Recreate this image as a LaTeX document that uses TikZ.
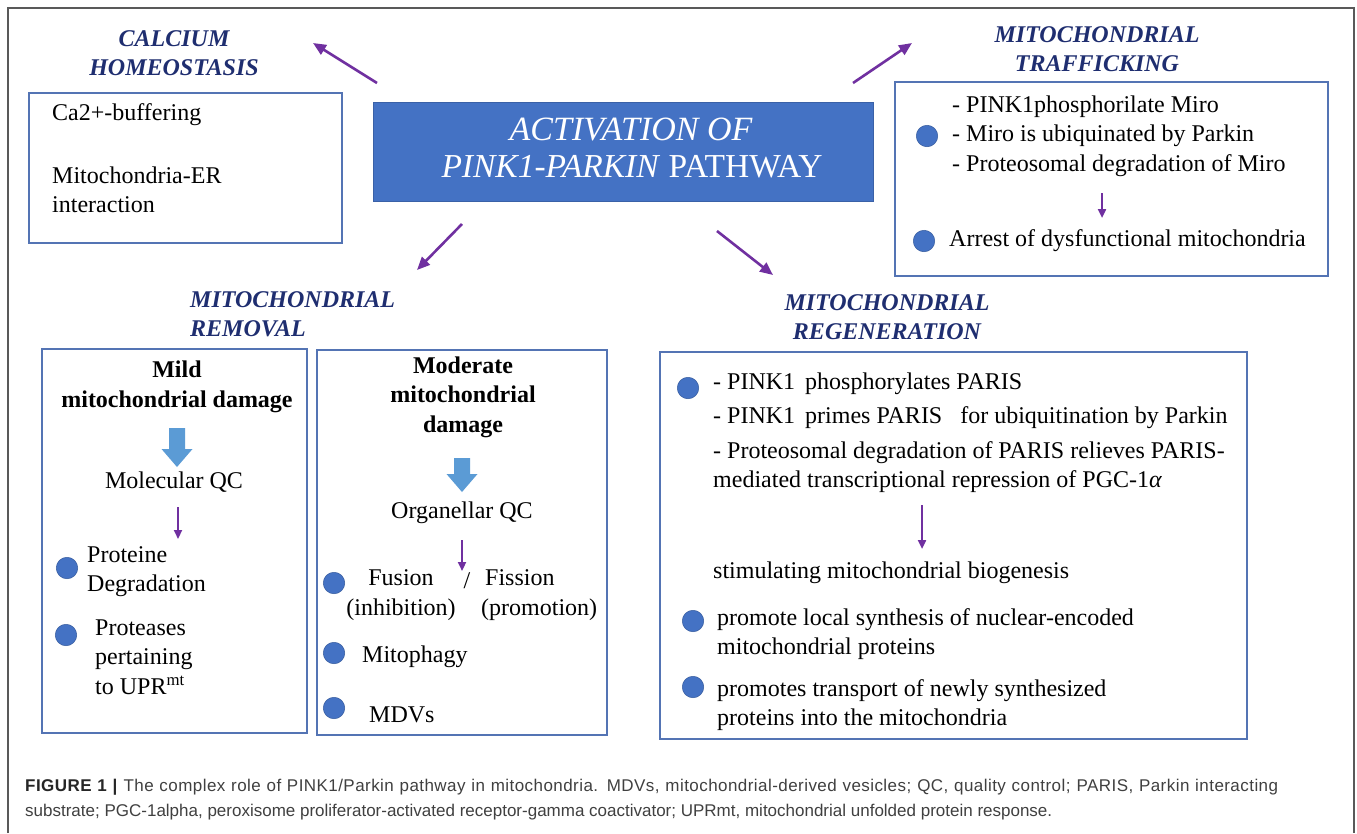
\documentclass[tikz,border=0pt]{standalone}
\usepackage{fontspec}
\setmainfont{Liberation Serif}
\newfontfamily\captionfont{Liberation Sans}
\usetikzlibrary{arrows.meta, positioning}

\definecolor{boxblue}{RGB}{68,114,196}
\definecolor{panelblue}{RGB}{84,116,180}
\definecolor{headblue}{RGB}{31,46,112}
\definecolor{fatblue}{RGB}{91,155,213}
\definecolor{pathpurple}{RGB}{112,48,160}
\definecolor{captiongray}{RGB}{64,64,64}

\tikzset{
	panel/.style={draw=panelblue, line width=1.2pt},
	heading/.style={text=headblue, font=\fontsize{24}{29}\selectfont\bfseries\itshape, align=center, inner sep=0pt},
	body/.style={font=\fontsize{24}{29.5}\selectfont, inner sep=0pt, anchor=west, align=left},
	damage/.style={font=\fontsize{24}{29.5}\selectfont\bfseries, inner sep=0pt, align=center},
	link/.style={pathpurple, line width=2.6pt, -{Triangle[length=13pt,width=11pt]}},
	smalllink/.style={pathpurple, line width=2.2pt, -{Triangle[length=9pt,width=8pt]}},
	dot/.style={circle, fill=boxblue, draw=boxblue!80!black, line width=0.5pt, minimum size=21.5pt, inner sep=0pt},
	captiontext/.style={font=\captionfont\fontsize{17}{25}\selectfont, text=captiongray, anchor=west, inner sep=0pt, align=left}
}

% thick blue arrow: x, top, tip
\newcommand{\fatarrow}[3]{%
	\fill[fatblue] (#1-8,#2) -- (#1+8,#2) -- (#1+8,#3-18) -- (#1+15.5,#3-18)
		-- (#1,#3) -- (#1-15.5,#3-18) -- (#1-8,#3-18) -- cycle;}

\begin{document}
\begin{tikzpicture}[x=1pt, y=-1pt]
	\useasboundingbox (0,0) rectangle (1357,833);
	\fill[white] (0,0) rectangle (1357,833);

	% outer frame
	\draw[line width=2pt, black!65] (8,833) -- (8,8) -- (1354,8) -- (1354,833);

	% central box
	\node[fill=boxblue, draw=boxblue!85!black, minimum width=500pt, minimum height=99pt, inner sep=0pt] (pathway) at (623,151.5) {};
	\node[text=white, font=\fontsize{34}{36}\selectfont\itshape, inner sep=0pt] (pathwayTop) at (631,129) {ACTIVATION OF};
	\node[text=white, font=\fontsize{33.5}{36}\selectfont, inner sep=0pt] (pathwayBottom) at (632,167) {\textit{PINK1-PARKIN} PATHWAY};

	% headings
	\node[heading] (calcium) at (174,53) {CALCIUM\\HOMEOSTASIS};
	\node[heading] (trafficking) at (1097,49) {MITOCHONDRIAL\\TRAFFICKING};
	\node[heading, align=left, anchor=west] (removal) at (190,314) {MITOCHONDRIAL\\REMOVAL};
	\node[heading] (regeneration) at (887,317) {MITOCHONDRIAL\\REGENERATION};

	% arrows out of the pathway
	\coordinate (toCalciumA) at (377,83);
	\coordinate (toCalciumB) at (313,43);
	\coordinate (toTraffickingA) at (853,83);
	\coordinate (toTraffickingB) at (912,43);
	\coordinate (toRemovalA) at (462,224);
	\coordinate (toRemovalB) at (417,270);
	\coordinate (toRegenerationA) at (717,231);
	\coordinate (toRegenerationB) at (773,275);
	\begin{scope}
		\draw[link] (toCalciumA) -- (toCalciumB);
		\draw[link] (toTraffickingA) -- (toTraffickingB);
		\draw[link] (toRemovalA) -- (toRemovalB);
		\draw[link] (toRegenerationA) -- (toRegenerationB);
	\end{scope}

	% panels
	\begin{scope}
		\draw[panel] (29,93) rectangle (342,243);
		\draw[panel] (895,82) rectangle (1328,276);
		\draw[panel] (42,349) rectangle (307,733);
		\draw[panel] (317,350) rectangle (607,735);
		\draw[panel] (660,352) rectangle (1247,739);
	\end{scope}

	% bullets
	\foreach \x/\y/\n in {927/136/miro, 924/241/arrest, 67/568/proteine, 66/635/proteases,
		334/583/fusion, 334/653/mitophagy, 334/708/mdv, 688/388/paris, 693/621/synthesis, 693/687/transport}
	{
		\node[dot] (dot\n) at (\x,\y) {};
	}

	% calcium homeostasis
	\node[body] (buffering) at (52,115) {Ca2+-buffering};
	\node[body] (erContact) at (52,190) {Mitochondria-ER\\interaction};

	% trafficking
	\node[body] (miro) at (952,136) {- PINK1phosphorilate Miro\\- Miro is ubiquinated by Parkin\\- Proteosomal degradation of Miro};
	\node[body] (arrest) at (949,241) {Arrest of dysfunctional mitochondria};
	\coordinate (miroOut) at (1102,193);
	\coordinate (arrestIn) at (1102,218);
	\draw[smalllink] (miroOut) -- (arrestIn);

	% mild damage
	\node[damage] (mild) at (177,387) {Mild\\mitochondrial damage};
	\fatarrow{177}{428}{467}
	\node[body, anchor=center] (molecular) at (174,482) {Molecular QC};
	\coordinate (molecularOut) at (178,507);
	\coordinate (proteineIn) at (178,539);
	\draw[smalllink] (molecularOut) -- (proteineIn);
	\node[body] (proteine) at (87,571.5) {Proteine\\Degradation};
	\node[body] (proteases) at (95,657) {Proteases\\pertaining\\to UPR\textsuperscript{mt}};

	% moderate damage
	\node[damage] (moderate) at (463,397) {Moderate\\mitochondrial\\damage};
	\fatarrow{462}{458}{492}
	\node[body, anchor=center] (organellar) at (462,513) {Organellar QC};
	\coordinate (organellarOut) at (462,540);
	\coordinate (fusionIn) at (462,571);
	\draw[smalllink] (organellarOut) -- (fusionIn);
	\node[body, anchor=center, align=center] (fusion) at (401,595) {Fusion\\(inhibition)};
	\node[body, anchor=center] (slash) at (467,581) {/};
	\node[body] (fission) at (481,595) {\,Fission\\(promotion)};
	\node[body] (mitophagy) at (362,657) {Mitophagy};
	\node[body] (mdv) at (369,715) {MDVs};

	% regeneration
	\node[body] (phospho) at (713,384) {- PINK1\, phosphorylates PARIS};
	\node[body] (primes) at (713,418) {- PINK1\, primes PARIS\ \ \ for ubiquitination by Parkin};
	\node[body] (relieves) at (713,467) {- Proteosomal degradation of PARIS relieves PARIS-\\mediated transcriptional repression of PGC-1\textit{α}};
	\coordinate (relievesOut) at (922,505);
	\coordinate (biogenesisIn) at (922,549);
	\draw[smalllink] (relievesOut) -- (biogenesisIn);
	\node[body] (biogenesis) at (713,573) {stimulating mitochondrial biogenesis};
	\node[body] (synthesis) at (717,634) {promote local synthesis of nuclear-encoded\\mitochondrial proteins};
	\node[body] (transport) at (717,705) {promotes transport of newly synthesized\\proteins into the mitochondria};

	% caption
	\node[captiontext] (caption) at (25,800) {\makebox[1253pt][s]{\addfontfeatures{LetterSpace=2.6}\textcolor{black!85}{\textbf{FIGURE 1 |}} The complex role of PINK1/Parkin pathway in mitochondria. MDVs, mitochondrial-derived vesicles; QC, quality control; PARIS, Parkin interacting}\\substrate; PGC-1alpha, peroxisome proliferator-activated receptor-gamma coactivator; UPRmt, mitochondrial unfolded protein response.};
\end{tikzpicture}
\end{document}
